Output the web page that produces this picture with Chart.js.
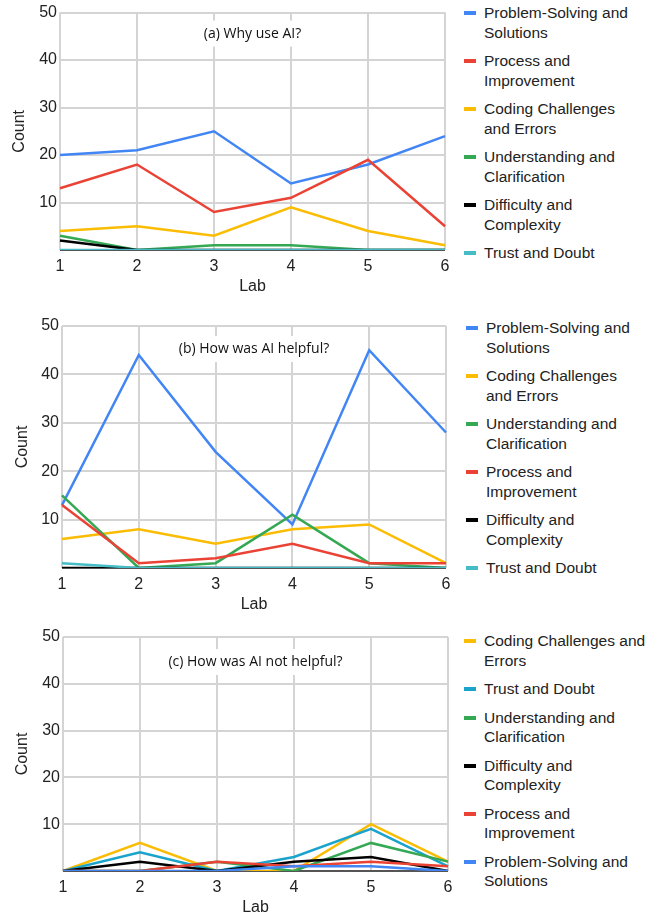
<!DOCTYPE html>
<html>
<head>
<meta charset="utf-8">
<script src="https://cdn.jsdelivr.net/npm/chart.js@4.4.0/dist/chart.umd.min.js"></script>
<style>
body{margin:0;background:#fff;width:658px;height:920px;position:relative;overflow:hidden;font-family:"Liberation Sans",Arial,sans-serif;}
.panel{position:absolute;left:0;width:460px;}
.legend{position:absolute;font-size:15.5px;line-height:19.5px;color:#222;}
.legend .item{position:relative;padding-left:20px;margin-bottom:9px;}
.legend .item i{position:absolute;left:0;top:8px;width:12px;height:4px;}
</style>
</head>
<body>
<div class="panel" style="top:0px;height:300px"><canvas id="chartA" width="460" height="300"></canvas></div>
<div class="panel" style="top:310px;height:310px"><canvas id="chartB" width="460" height="310"></canvas></div>
<div class="panel" style="top:620px;height:300px"><canvas id="chartC" width="460" height="300"></canvas></div>
<div class="legend" id="legendA" style="left:464px;top:3px;width:172px"></div>
<div class="legend" id="legendB" style="left:466px;top:318px;width:172px"></div>
<div class="legend" id="legendC" style="left:464px;top:631px;width:186px"></div>
<script>
// lab numbers on the x axis
var labs = ['1', '2', '3', '4', '5', '6'];
var yMax = 50;
var yStep = 10;

// (a) Why use AI?
var whyNames = ['Problem-Solving and Solutions', 'Process and Improvement', 'Coding Challenges and Errors',
    'Understanding and Clarification', 'Difficulty and Complexity', 'Trust and Doubt'];
var whyProblem = [20, 21, 25, 14, 18, 24];
var whyProcess = [13, 18, 8, 11, 19, 5];
var whyCoding = [4, 5, 3, 9, 4, 1];
var whyUnderstanding = [3, 0, 1, 1, 0, 0];
var whyDifficulty = [2, 0, 0, 0, 0, 0];
var whyTrust = [0, 0, 0, 0, 0, 0];

// (b) How was AI helpful?
var helpNames = ['Problem-Solving and Solutions', 'Coding Challenges and Errors', 'Understanding and Clarification',
    'Process and Improvement', 'Difficulty and Complexity', 'Trust and Doubt'];
var helpProblem = [13, 44, 24, 9, 45, 28];
var helpCoding = [6, 8, 5, 8, 9, 1];
var helpUnderstanding = [15, 0, 1, 11, 1, 0];
var helpProcess = [13, 1, 2, 5, 1, 1];
var helpDifficulty = [0, 0, 0, 0, 0, 0];
var helpTrust = [1, 0, 0, 0, 0, 0];

// (c) How was AI not helpful?
var notNames = ['Coding Challenges and Errors', 'Trust and Doubt', 'Understanding and Clarification',
    'Difficulty and Complexity', 'Process and Improvement', 'Problem-Solving and Solutions'];
var notCoding = [0, 6, 0, 0, 10, 2];
var notTrust = [0, 4, 0, 3, 9, 1];
var notUnderstanding = [0, 0, 2, 0, 6, 2];
var notDifficulty = [0, 2, 0, 2, 3, 0];
var notProcess = [0, 0, 2, 1, 2, 1];
var notProblem = [0, 0, 0, 1, 1, 0];

var colorMap = {
    'Problem-Solving and Solutions': '#4285F4',
    'Process and Improvement': '#EA4335',
    'Coding Challenges and Errors': '#FBBC04',
    'Understanding and Clarification': '#34A853',
    'Difficulty and Complexity': '#000000',
    'Trust and Doubt': '#46BDC6'
};

// draws the panel caption in a white box inside the plot
var boxTitle = {
    id: 'boxTitle',
    beforeDatasetsDraw: function(chart, args, opts) {
        var ctx = chart.ctx;
        var area = chart.chartArea;
        ctx.save();
        ctx.font = '14px "Open Sans"';
        var w = ctx.measureText(opts.text).width;
        var x = (area.left + area.right) / 2;
        var y = area.top + opts.dy;
        ctx.fillStyle = '#fff';
        ctx.fillRect(x - w / 2 - 5, y - 13, w + 10, 26);
        ctx.fillStyle = '#111';
        ctx.textAlign = 'center';
        ctx.textBaseline = 'middle';
        ctx.fillText(opts.text, x, y);
        ctx.restore();
    }
};

function makePanel(id, names, series, colors, p) {
    var datasets = [];
    for (let i = 0; i < names.length; i++) {
        datasets.push({
            label: names[i], data: series[i],
            borderColor: colors[i], backgroundColor: colors[i],
            borderWidth: 2.5, pointRadius: 0, tension: 0,
            order: names.length - i // later series on top
        });
    }
    return new Chart(document.getElementById(id), {
        type: 'line',
        data: { labels: labs, datasets: datasets },
        plugins: [boxTitle],
        options: {
            responsive: false,
            animation: false,
            layout: { padding: { top: p.top, right: p.right, left: 0, bottom: 0 } },
            plugins: {
                legend: { display: false },
                tooltip: { enabled: false },
                boxTitle: { text: p.title, dy: p.titleDy }
            },
            scales: {
                x: {
                    offset: false,
                    border: { display: false },
                    grid: { color: '#d4d4d4', lineWidth: 2, drawTicks: false },
                    ticks: { padding: 7, color: '#222', font: { family: 'Liberation Sans', size: 16 } },
                    title: { display: true, text: 'Lab', color: '#222',
                        font: { family: 'Liberation Sans', size: 16 }, padding: { bottom: p.labPad, top: 0 } },
                    afterFit: function(s) { s.height = p.xHeight; }
                },
                y: {
                    min: 0, max: yMax,
                    border: { display: false },
                    grid: {
                        drawTicks: false, lineWidth: 2,
                        color: function(c) { return c.tick && c.tick.value === 0 ? '#555' : '#d4d4d4'; }
                    },
                    ticks: {
                        stepSize: yStep, padding: 3, color: '#222',
                        font: { family: 'Liberation Sans', size: 16 },
                        callback: function(v) { return v === 0 ? '' : v; }
                    },
                    title: { display: true, text: 'Count', color: '#222',
                        font: { family: 'Liberation Sans', size: 16 }, padding: { top: p.countPad, bottom: 0 } },
                    afterFit: function(s) { s.width = p.left; }
                }
            }
        }
    });
}

function makeLegend(id, names, colors) {
    var html = '';
    for (let i = 0; i < names.length; i++) {
        html += '<div class="item"><i style="background:' + colors[i] + '"></i>' + names[i] + '</div>';
    }
    document.getElementById(id).innerHTML = html;
}

var whyColors = whyNames.map(function(n) { return colorMap[n]; });
var helpColors = helpNames.map(function(n) { return colorMap[n]; });
var notColors = notNames.map(function(n) { return n === 'Trust and Doubt' ? '#1AA3CB' : colorMap[n]; });

makePanel('chartA', whyNames,
    [whyProblem, whyProcess, whyCoding, whyUnderstanding, whyDifficulty, whyTrust], whyColors,
    { top: 11, right: 15, left: 60, xHeight: 50, labPad: 3.4, countPad: 10.4, title: '(a) Why use AI?', titleDy: 21 });
makePanel('chartB', helpNames,
    [helpProblem, helpCoding, helpUnderstanding, helpProcess, helpDifficulty, helpTrust], helpColors,
    { top: 16, right: 14, left: 62, xHeight: 52, labPad: 5.4, countPad: 13.4, title: '(b) How was AI helpful?', titleDy: 23 });
makePanel('chartC', notNames,
    [notCoding, notTrust, notUnderstanding, notDifficulty, notProcess, notProblem], notColors,
    { top: 17, right: 12, left: 63, xHeight: 49, labPad: 2.4, countPad: 13.4, title: '(c) How was AI not helpful?', titleDy: 25 });

makeLegend('legendA', whyNames, whyColors);
makeLegend('legendB', helpNames, helpColors);
makeLegend('legendC', notNames, notColors);
</script>
</body>
</html>
